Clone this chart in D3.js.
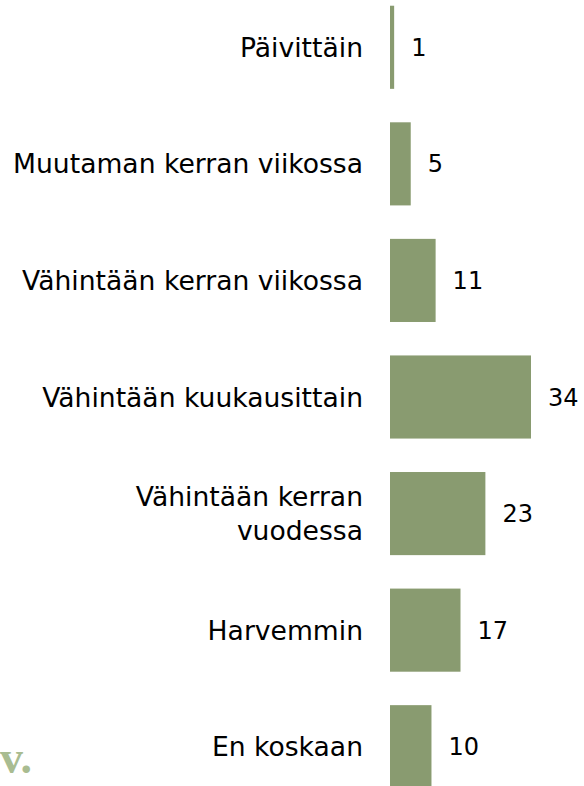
<!DOCTYPE html>
<html>
<head>
<meta charset="utf-8">
<script src="https://cdn.jsdelivr.net/npm/d3@7"></script>
<style>
  html, body { margin: 0; padding: 0; background: #fff; }
  svg { display: block; }
</style>
</head>
<body>
<svg id="chart" width="584" height="786"></svg>
<script>
const categories = [
  ["Päivittäin"],
  ["Muutaman kerran viikossa"],
  ["Vähintään kerran viikossa"],
  ["Vähintään kuukausittain"],
  ["Vähintään kerran", "vuodessa"],
  ["Harvemmin"],
  ["En koskaan"]
];
const values = [1, 5, 11, 34, 23, 17, 10];

const svg = d3.select("#chart");

const y = d3.scaleBand()
  .domain(d3.range(categories.length))
  .range([-11, 805])
  .paddingInner(0.287)
  .paddingOuter(0.1435);

const x = d3.scaleLinear().domain([0, 34]).range([390, 531]);

const barColor = "#899b70";
const font = "'DejaVu Sans', Verdana, sans-serif";

svg.append("g").selectAll("rect")
  .data(values)
  .join("rect")
  .attr("x", x(0))
  .attr("y", (d, i) => y(i))
  .attr("width", d => x(d) - x(0))
  .attr("height", y.bandwidth())
  .attr("fill", barColor);

// value labels
svg.append("g").selectAll("text")
  .data(values)
  .join("text")
  .attr("x", d => x(d) + 17)
  .attr("y", (d, i) => y(i) + y.bandwidth() / 2)
  .attr("dy", "0.36em")
  .attr("font-family", font)
  .attr("font-size", 24)
  .attr("fill", "#000")
  .text(d => d);

// category labels
const lh = 34;
const lab = svg.append("g").selectAll("text")
  .data(categories)
  .join("text")
  .attr("x", 363)
  .attr("y", (d, i) => y(i) + y.bandwidth() / 2 - (d.length - 1) * lh / 2)
  .attr("text-anchor", "end")
  .attr("font-family", font)
  .attr("font-size", 26.6)
  .attr("fill", "#000");
lab.each(function(d) {
  d3.select(this).selectAll("tspan")
    .data(d)
    .join("tspan")
    .attr("x", 363)
    .attr("dy", (t, j) => j === 0 ? "0.36em" : lh)
    .text(t => t);
});

// fragment of a footer mark at bottom-left
svg.append("text")
  .attr("x", 0)
  .attr("y", 773)
  .attr("font-family", "'Liberation Serif', 'Times New Roman', serif")
  .attr("font-weight", "bold")
  .attr("font-size", 46)
  .attr("fill", "#a9bc91")
  .text("v.");
</script>
</body>
</html>
